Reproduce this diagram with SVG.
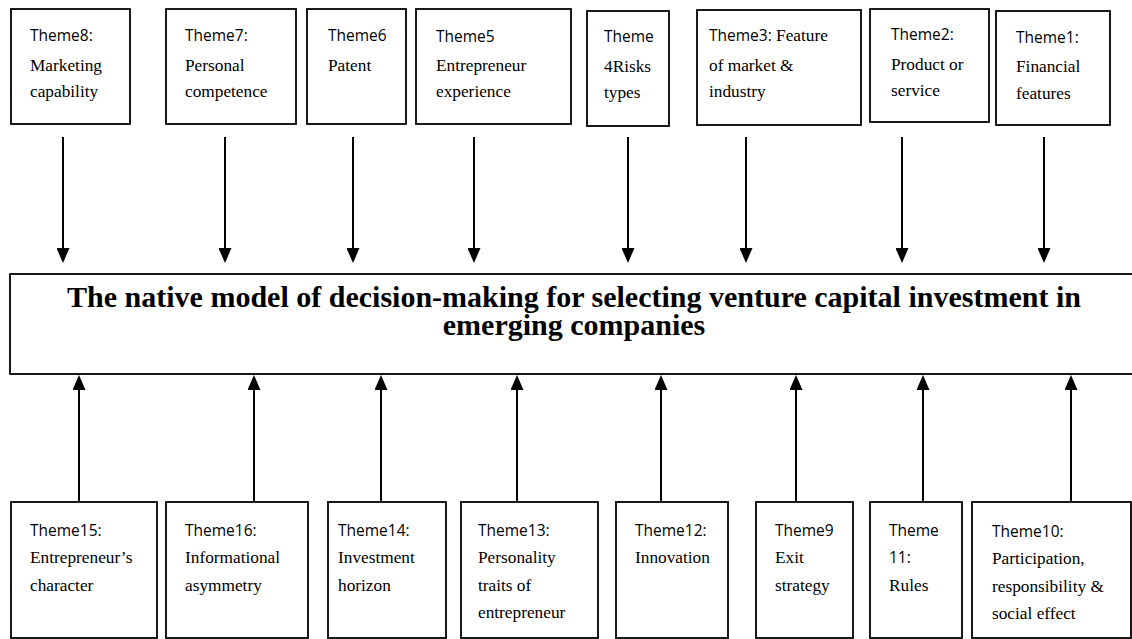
<svg xmlns="http://www.w3.org/2000/svg" width="1132" height="639" viewBox="0 0 1132 639">
<defs>
<style>
.box{fill:#fff;stroke:#000;stroke-width:1.8}
.s{font-family:"Open Sans","Liberation Sans",sans-serif;font-size:15.5px;fill:#000}
.r{font-family:"Liberation Serif","Times New Roman",serif;font-size:17.3px;fill:#000}
.title{font-family:"Liberation Serif","Times New Roman",serif;font-size:30px;font-weight:bold;fill:#000;text-anchor:middle}
.conn line{stroke:#000;stroke-width:2;marker-end:url(#ah)}
</style>
<marker id="ah" viewBox="0 0 15 13" refX="5" refY="6.5" markerUnits="userSpaceOnUse" markerWidth="15" markerHeight="13" orient="auto">
<path d="M0,0 L15,6.5 L0,13 Z" fill="#000"/>
</marker>
</defs>
<rect width="1132" height="639" fill="#fff"/>

<g id="theme8"><rect class="box" x="11" y="9" width="119" height="115"/>
<text class="s" x="30" y="41">Theme8:</text><text class="r" x="30" y="71">Marketing</text><text class="r" x="30" y="97">capability</text></g>
<g id="theme7"><rect class="box" x="166" y="9" width="130" height="115"/>
<text class="s" x="185" y="41">Theme7:</text><text class="r" x="185" y="71">Personal</text><text class="r" x="185" y="97">competence</text></g>
<g id="theme6"><rect class="box" x="307" y="9" width="99" height="115"/>
<text class="s" x="328" y="41">Theme6</text><text class="r" x="328" y="71">Patent</text></g>
<g id="theme5"><rect class="box" x="416" y="9" width="155" height="115"/>
<text class="s" x="436" y="42">Theme5</text><text class="r" x="436" y="71">Entrepreneur</text><text class="r" x="436" y="97">experience</text></g>
<g id="theme4"><rect class="box" x="587" y="11" width="82" height="115"/>
<text class="s" x="604" y="42">Theme</text><text class="r" x="604" y="72">4Risks</text><text class="r" x="604" y="98">types</text></g>
<g id="theme3"><rect class="box" x="697" y="10" width="164" height="115"/>
<text x="709" y="41"><tspan class="s">Theme3:</tspan><tspan class="r"> Feature</tspan></text><text class="r" x="709" y="71">of market &amp;</text><text class="r" x="709" y="97">industry</text></g>
<g id="theme2"><rect class="box" x="870" y="9" width="119" height="113"/>
<text class="s" x="891" y="40">Theme2:</text><text class="r" x="891" y="70">Product or</text><text class="r" x="891" y="96">service</text></g>
<g id="theme1"><rect class="box" x="996" y="11" width="114" height="114"/>
<text class="s" x="1016" y="43">Theme1:</text><text class="r" x="1016" y="72">Financial</text><text class="r" x="1016" y="99">features</text></g>

<g id="model"><rect class="box" x="10" y="274" width="1140" height="100"/>
<text class="title" x="574" y="307">The native model of decision-making for selecting venture capital investment in</text>
<text class="title" x="574" y="335">emerging companies</text></g>

<g id="theme15"><rect class="box" x="11" y="502" width="146" height="136"/>
<text class="s" x="30" y="536">Theme15:</text><text class="r" x="30" y="563">Entrepreneur’s</text><text class="r" x="30" y="591">character</text></g>
<g id="theme16"><rect class="box" x="166" y="502" width="142" height="136"/>
<text class="s" x="185" y="536">Theme16:</text><text class="r" x="185" y="563">Informational</text><text class="r" x="185" y="591">asymmetry</text></g>
<g id="theme14"><rect class="box" x="328" y="502" width="118" height="136"/>
<text class="s" x="338" y="536">Theme14:</text><text class="r" x="338" y="563">Investment</text><text class="r" x="338" y="591">horizon</text></g>
<g id="theme13"><rect class="box" x="461" y="502" width="137" height="136"/>
<text class="s" x="478" y="536">Theme13:</text><text class="r" x="478" y="563">Personality</text><text class="r" x="478" y="591">traits of</text><text class="r" x="478" y="618">entrepreneur</text></g>
<g id="theme12"><rect class="box" x="616" y="502" width="112" height="136"/>
<text class="s" x="635" y="536">Theme12:</text><text class="r" x="635" y="563">Innovation</text></g>
<g id="theme9"><rect class="box" x="756" y="502" width="97" height="136"/>
<text class="s" x="775" y="536">Theme9</text><text class="r" x="775" y="563">Exit</text><text class="r" x="775" y="591">strategy</text></g>
<g id="theme11"><rect class="box" x="870" y="502" width="92" height="136"/>
<text class="s" x="889" y="536">Theme</text><text class="s" x="889" y="563">11:</text><text class="r" x="889" y="591">Rules</text></g>
<g id="theme10"><rect class="box" x="972" y="502" width="159" height="136"/>
<text class="s" x="992" y="537">Theme10:</text><text class="r" x="992" y="564">Participation,</text><text class="r" x="992" y="592">responsibility &amp;</text><text class="r" x="992" y="619">social effect</text></g>

<g id="connectors" class="conn">
<line x1="63" y1="137" x2="63" y2="253"/>
<line x1="225" y1="137" x2="225" y2="253"/>
<line x1="353" y1="137" x2="353" y2="253"/>
<line x1="474" y1="137" x2="474" y2="253"/>
<line x1="628" y1="137" x2="628" y2="253"/>
<line x1="746" y1="137" x2="746" y2="253"/>
<line x1="902" y1="137" x2="902" y2="253"/>
<line x1="1044" y1="137" x2="1044" y2="253"/>
<line x1="79" y1="502" x2="79" y2="385"/>
<line x1="254" y1="502" x2="254" y2="385"/>
<line x1="381" y1="502" x2="381" y2="385"/>
<line x1="517" y1="502" x2="517" y2="385"/>
<line x1="661" y1="502" x2="661" y2="385"/>
<line x1="796" y1="502" x2="796" y2="385"/>
<line x1="923" y1="502" x2="923" y2="385"/>
<line x1="1071" y1="502" x2="1071" y2="385"/>
</g>
</svg>
